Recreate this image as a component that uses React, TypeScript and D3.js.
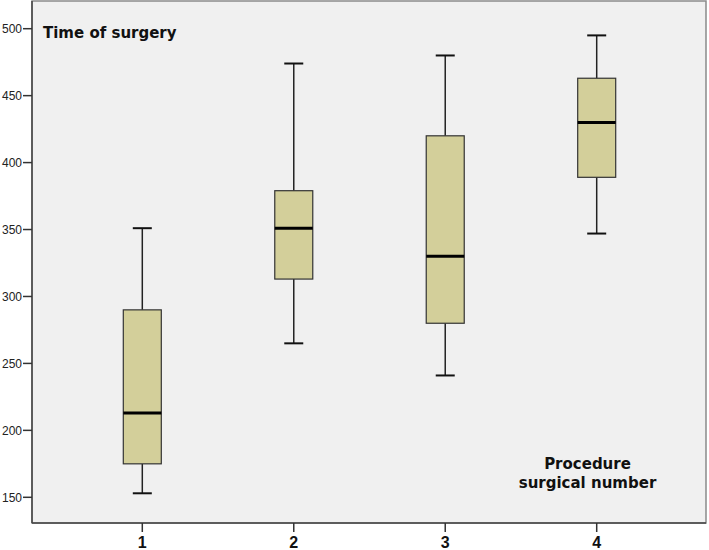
import React from "react";
import * as d3 from "d3";

const categories = ["1", "2", "3", "4"];
const whiskerLow = [153, 265, 241, 347];
const q1 = [175, 313, 280, 389];
const medians = [213, 351, 330, 430];
const q3 = [290, 379, 420, 463];
const whiskerHigh = [351, 474, 480, 495];
const yTicks = [150, 200, 250, 300, 350, 400, 450, 500];
const yTitle = "Time of surgery";
const xTitleLines = ["Procedure", "surgical number"];

const W = 709;
const H = 550;
const left = 32;
const right = 706;
const top = 1;
const bottom = 523;

export default function App() {
  const y = d3.scaleLinear().domain([150, 500]).range([497.3, 28.7]);
  const x = d3.scaleLinear().domain([1, 4]).range([142.3, 596.7]);
  const boxW = 38;
  const capW = 19;
  const font = "Arial, 'Liberation Sans', sans-serif";
  const titleFont = "'DejaVu Sans', Verdana, sans-serif";
  return (
    <div style={{ position: "fixed", left: 0, top: 0 }}>
      <svg width={W} height={H} style={{ display: "block", background: "#fff" }}>
        <rect x={left} y={top} width={right - left} height={bottom - top} fill="#f0f0f0" stroke="#8a8a8a" strokeWidth={1.5} />
        <line x1={left} x2={left} y1={top} y2={bottom} stroke="#444" strokeWidth={1.5} />
        <line x1={left} x2={right} y1={bottom} y2={bottom} stroke="#444" strokeWidth={1.5} />
        {yTicks.map((t) => (
          <g key={t}>
            <line x1={left - 9} x2={left} y1={y(t)} y2={y(t)} stroke="#333" strokeWidth={1.5} />
            <text x={left - 10} y={y(t)} dy="0.35em" textAnchor="end" fontFamily={font} fontSize={12} fill="#222">
              {t}
            </text>
          </g>
        ))}
        {categories.map((c, i) => {
          const cx = x(+c);
          return (
            <g key={c}>
              <line x1={cx} x2={cx} y1={bottom} y2={bottom + 9} stroke="#333" strokeWidth={1.5} />
              <text x={cx} y={548.3} textAnchor="middle" fontFamily={font} fontWeight="bold" fontSize={16} fill="#111">
                {c}
              </text>
              <line x1={cx} x2={cx} y1={y(whiskerHigh[i])} y2={y(q3[i])} stroke="#222" strokeWidth={1.5} />
              <line x1={cx} x2={cx} y1={y(q1[i])} y2={y(whiskerLow[i])} stroke="#222" strokeWidth={1.5} />
              <line x1={cx - capW / 2} x2={cx + capW / 2} y1={y(whiskerHigh[i])} y2={y(whiskerHigh[i])} stroke="#111" strokeWidth={2} />
              <line x1={cx - capW / 2} x2={cx + capW / 2} y1={y(whiskerLow[i])} y2={y(whiskerLow[i])} stroke="#111" strokeWidth={2} />
              <rect x={cx - boxW / 2} y={y(q3[i])} width={boxW} height={y(q1[i]) - y(q3[i])} fill="#d3cf9a" stroke="#333" strokeWidth={1.2} />
              <line x1={cx - boxW / 2} x2={cx + boxW / 2} y1={y(medians[i])} y2={y(medians[i])} stroke="#000" strokeWidth={3} />
            </g>
          );
        })}
        <text x={43} y={37.5} fontFamily={titleFont} fontWeight="bold" fontSize={15} fill="#111">
          {yTitle}
        </text>
        {xTitleLines.map((l, i) => (
          <text key={l} x={587.5} y={468.7 + i * 19} textAnchor="middle" fontFamily={titleFont} fontWeight="bold" fontSize={15} fill="#111">
            {l}
          </text>
        ))}
      </svg>
    </div>
  );
}
